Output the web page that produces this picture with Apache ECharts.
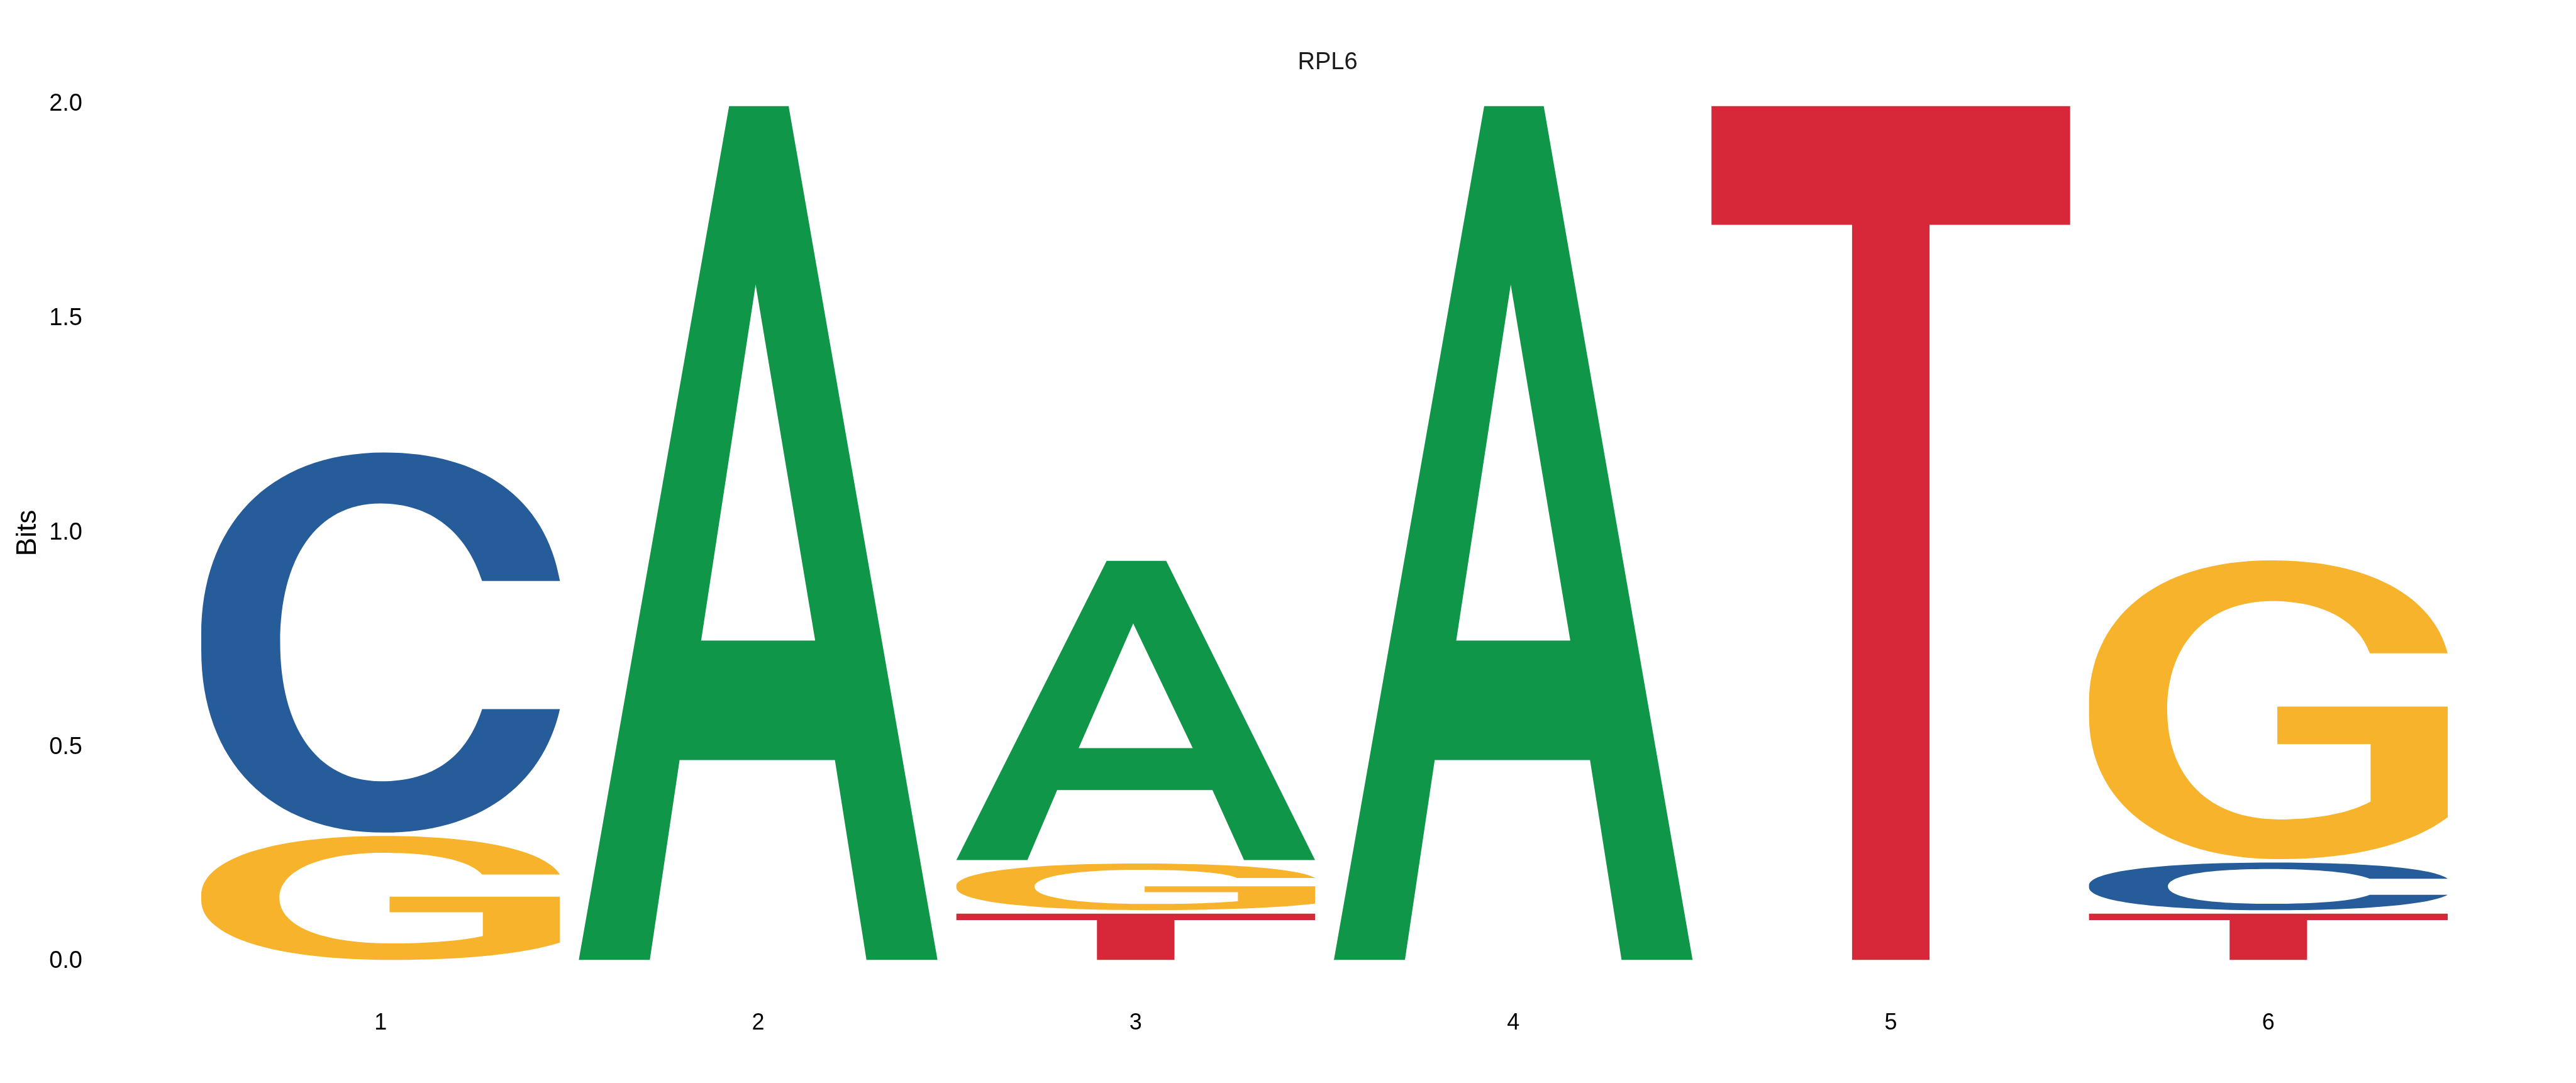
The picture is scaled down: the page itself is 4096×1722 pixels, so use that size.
<!DOCTYPE html>
<html>
<head>
<meta charset="utf-8">
<script src="https://cdn.jsdelivr.net/npm/echarts@6/dist/echarts.min.js"></script>
<style>
html,body{margin:0;padding:0;background:#fff;}
#chart{width:4096px;height:1722px;}
</style>
</head>
<body>
<div id="chart"></div>
<script>
// ---- data ----
const positions = ['1', '2', '3', '4', '5', '6'];
const letters = ['A', 'C', 'G', 'T'];
const heightA = [0, 2.0, 0.706, 2.0, 0, 0];
const heightC = [0.895, 0, 0, 0, 0, 0.119];
const heightG = [0.297, 0, 0.117, 0, 0, 0.705];
const heightT = [0, 0, 0.116, 0, 2.0, 0.116];
const yTicks = [0, 0.5, 1.0, 1.5, 2.0];
const titleText = 'RPL6';
const yName = 'Bits';

// ---- styles ----
const colors = { A: '#109648', C: '#255C99', G: '#F7B32B', T: '#D62839' };
const glyphs = {
  A: 'M0,100 L41.9,0 L58.5,0 L100,100 L80.2,100 L71.4,76.6 L28.1,76.6 L19.8,100 Z ' +
     'M49.3,20.9 L34.1,62.6 L65.9,62.6 Z',
  T: 'M0,0 L100,0 L100,13.9 L60.8,13.9 L60.8,100 L39.2,100 L39.2,13.9 L0,13.9 Z',
  C: 'M100,33.8 C96,12 78,0 51,0 C18,0 0,20 0,48 L0,52 C0,81 19,100 51,100 C77,100 95,88 100,67.5 ' +
     'L78.3,67.5 C74,80 65,86.5 50,86.5 C32,86.5 22,72 22,50 C22,28 32,13.4 50,13.4 C64,13.4 74,21 78.3,33.8 Z',
  G: 'M100,31.1 C96,12 78,0 51,0 C18,0 0,20 0,48 L0,52 C0,81 20,100 53,100 C74,100 90,95 100,86 ' +
     'L100,48.9 L52.5,48.9 L52.5,61.5 L78.5,61.5 L78.5,80.7 C72,85 62,86.7 53,86.7 ' +
     'C33,86.7 21.8,72 21.8,50 C21.8,28 33,13.6 51,13.6 C65,13.6 75,20 78.3,31.1 Z'
};
const PAD = 0.004;
const WIDTH_FRAC = 0.95;

// ---- build stacked letter items ----
const heights = { A: heightA, C: heightC, G: heightG, T: heightT };
const items = [];
positions.forEach((p, i) => {
  const col = letters.map(l => ({ l, h: heights[l][i] })).filter(d => d.h > 0)
    .sort((a, b) => a.h - b.h);
  let base = 0;
  col.forEach(d => {
    items.push({ value: [i, base, base + d.h], letter: d.l });
    base += d.h;
  });
});

const chart = echarts.init(document.getElementById('chart'), null, { renderer: 'canvas' });
chart.setOption({
  backgroundColor: '#fff',
  animation: false,
  title: {
    text: titleText,
    left: 2106, top: 76, textAlign: 'center',
    textStyle: { fontFamily: 'Liberation Sans', fontWeight: 'normal', fontSize: 38, color: '#1a1a1a' }
  },
  grid: { left: 305, right: 189, top: 166, bottom: 193 },
  xAxis: {
    type: 'category', data: positions, boundaryGap: true,
    axisLine: { show: false }, axisTick: { show: false }, splitLine: { show: false },
    axisLabel: { margin: 80, fontFamily: 'Liberation Sans', fontSize: 36, color: '#000' }
  },
  yAxis: {
    type: 'value', min: 0, max: 2, interval: 0.5,
    name: yName, nameLocation: 'middle', nameGap: 228, nameRotate: 90,
    nameTextStyle: { fontFamily: 'Liberation Sans', fontSize: 44, color: '#000' },
    axisLine: { show: false }, axisTick: { show: false }, splitLine: { show: false },
    axisLabel: { margin: 174, fontFamily: 'Liberation Sans', fontSize: 38, color: '#000',
      formatter: v => yTicks.includes(v) ? v.toFixed(1) : '' }
  },
  series: [{
    type: 'custom',
    clip: false,
    data: items,
    renderItem: function (params, api) {
      const idx = params.dataIndex;
      const it = items[idx];
      const x = api.value(0);
      const p0 = api.coord([x, api.value(1) + PAD]);
      const p1 = api.coord([x, api.value(2) - PAD]);
      const bw = api.size([1, 0])[0] * WIDTH_FRAC;
      return {
        type: 'path',
        shape: {
          pathData: glyphs[it.letter],
          x: p0[0] - bw / 2, y: p1[1], width: bw, height: p0[1] - p1[1],
          layout: 'cover'
        },
        style: { fill: colors[it.letter] }
      };
    }
  }]
});
</script>
</body>
</html>
